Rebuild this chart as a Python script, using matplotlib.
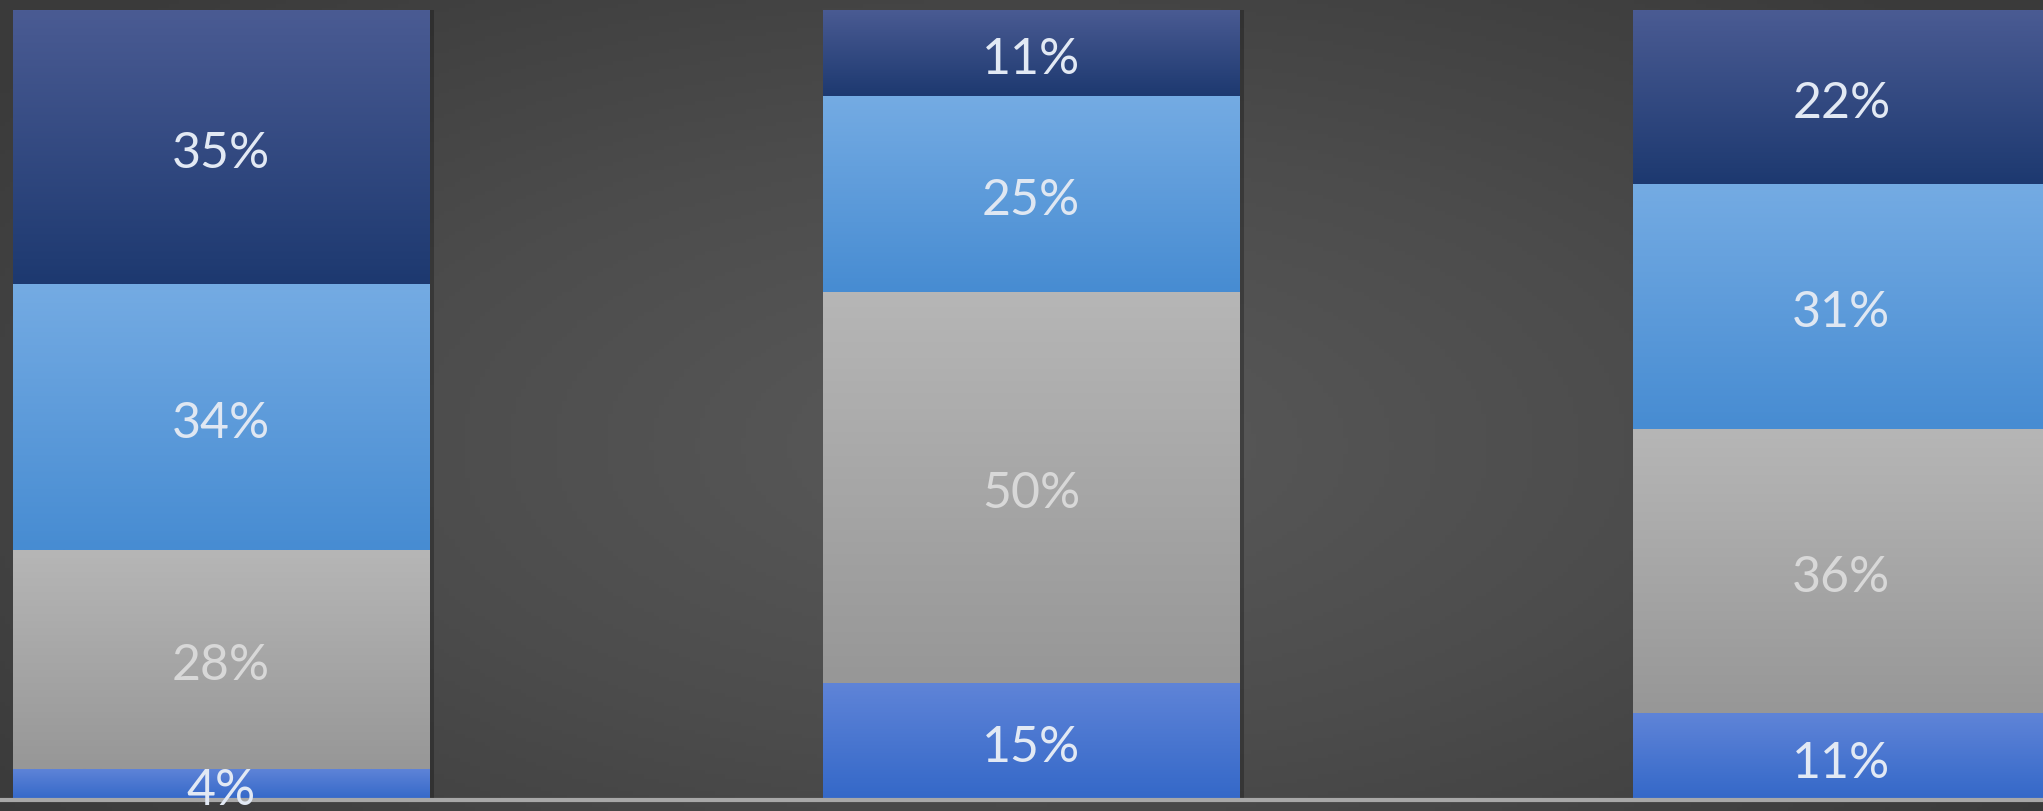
import numpy as np
import matplotlib
matplotlib.use('Agg')
import matplotlib.pyplot as plt
from matplotlib.colors import LinearSegmentedColormap

# stacked shares per bar, bottom to top
bar_positions = [0, 1, 2]
seg_blue = [4, 15, 11]
seg_gray = [28, 50, 36]
seg_light = [34, 25, 31]
seg_navy = [35, 11, 22]

series = [seg_blue, seg_gray, seg_light, seg_navy]
# (top colour, bottom colour) of each segment gradient
grad_colors = [('#5f84d8', '#3468c8'),
               ('#b6b6b6', '#979797'),
               ('#74abe3', '#478cd2'),
               ('#4a5b93', '#1d3970')]
label_colors = ['#e2e9f4', '#d8d8d8', '#dfe7f2', '#e2e9f4']

plt.rcParams['font.family'] = ['Lato', 'DejaVu Sans']

fig = plt.figure(figsize=(20.43, 8.11), dpi=100)
ax = fig.add_axes([0, 0, 1, 1])
bar_w = 0.514
ax.set_xlim(-0.273, 2.249)
ax.set_ylim(-1.39, 101.27)
ax.axis('off')

# dark vignette background
yy, xx = np.mgrid[0:1:200j, 0:1:400j]
r = np.sqrt(((xx - 0.5) / 0.75) ** 2 + ((yy - 0.55) / 0.9) ** 2)
bg = LinearSegmentedColormap.from_list('bg', ['#5a5a5a', '#4c4c4c', '#3a3a3a'])
ax.imshow(r, cmap=bg, extent=[-0.273, 2.249, -1.39, 101.27], aspect='auto',
          zorder=0, vmin=0, vmax=0.85)

grad = np.linspace(1, 0, 100).reshape(-1, 1)
totals = np.sum(series, axis=0)
bottoms = np.zeros(len(bar_positions))
for vals, (c_top, c_bot), lc in zip(series, grad_colors, label_colors):
    shares = np.array(vals) / totals * 100
    # soft shadow to the right of each segment
    ax.bar(np.array(bar_positions) + 0.006, shares, bar_w, bottom=bottoms,
           color='black', alpha=0.25, linewidth=0, zorder=1)
    bars = ax.bar(bar_positions, shares, bar_w, bottom=bottoms,
                  color=c_bot, linewidth=0, zorder=2)
    cmap = LinearSegmentedColormap.from_list('g', [c_bot, c_top])
    for b, v, s in zip(bars, vals, shares):
        x0, y0 = b.get_x(), b.get_y()
        im = ax.imshow(grad, cmap=cmap, aspect='auto', zorder=3,
                       extent=[x0, x0 + b.get_width(), y0, y0 + s])
        im.set_clip_path(b)
        ax.annotate(f'{v}%', (x0 + b.get_width() / 2, y0 + s / 2),
                    xytext=(0, -7), textcoords='offset pixels',
                    ha='center', va='center', fontsize=36, color=lc, zorder=5)
    bottoms += shares

ax.axhline(0, color='#a8a8a8', linewidth=3, zorder=4)

fig.savefig('out.png', dpi=100)
